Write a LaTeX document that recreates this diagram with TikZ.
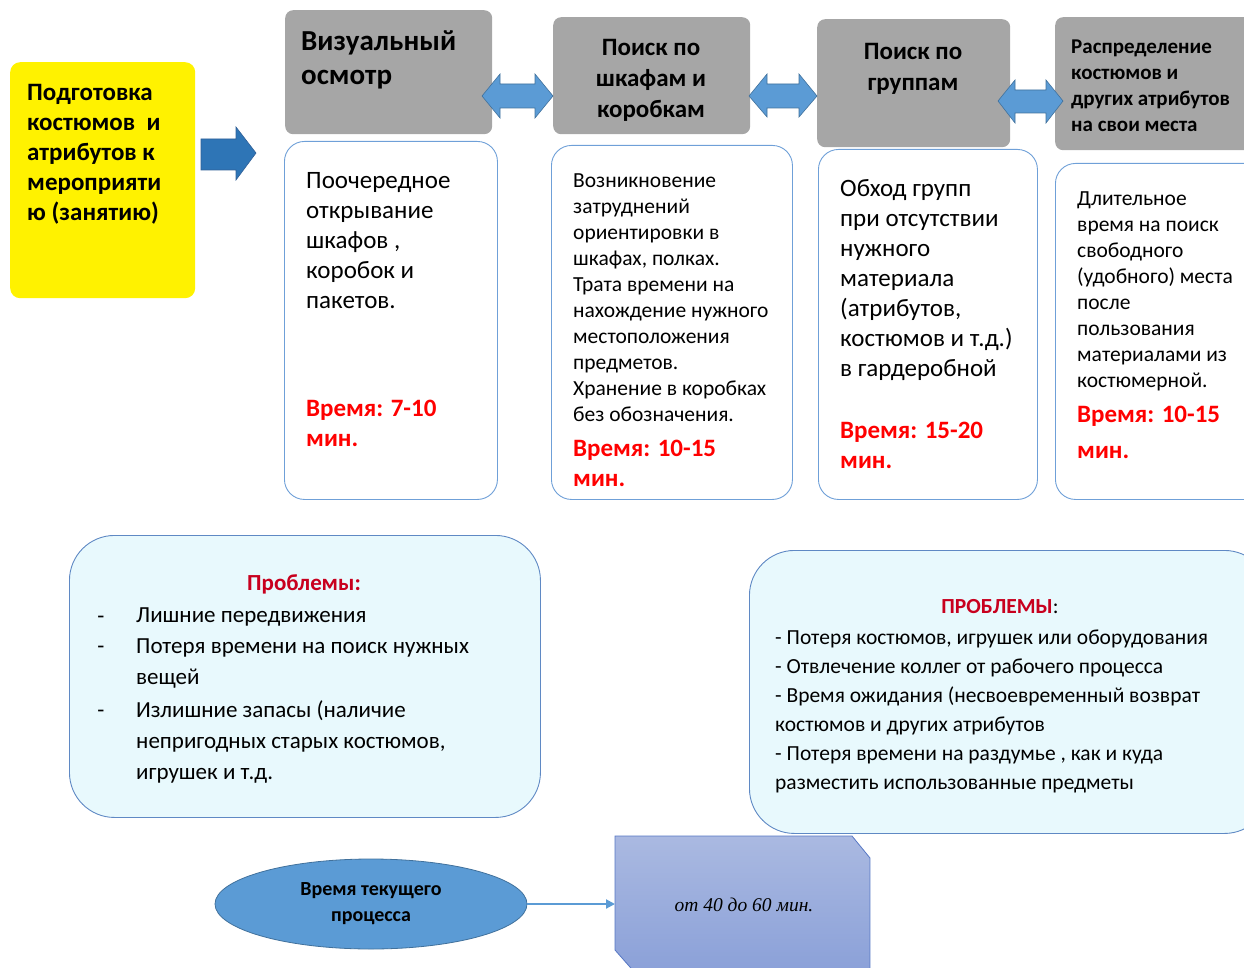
\documentclass[tikz,border=0pt]{standalone}
\usepackage{fontspec}
\setmainfont{Carlito}
\newfontfamily\serifit{Liberation Serif}
\usetikzlibrary{shapes.geometric,arrows.meta}
\definecolor{headgray}{HTML}{A6A6A6}
\definecolor{boxblue}{HTML}{6FA0D8}
\definecolor{arrblue}{HTML}{5B9BD5}
\definecolor{arrblueD}{HTML}{41719C}
\definecolor{darkarr}{HTML}{2E75B6}
\definecolor{darkarrD}{HTML}{2F5F97}
\definecolor{probfill}{HTML}{E8F9FD}
\definecolor{probline}{HTML}{5F89C4}
\definecolor{probred}{HTML}{C8001E}
\definecolor{lavtop}{HTML}{AAB9E1}
\definecolor{lavbot}{HTML}{8AA0D8}
\definecolor{lavline}{HTML}{5677C4}
\newcommand\myfs[2]{\fontsize{#1}{#2}\selectfont}
\begin{document}
\begin{tikzpicture}[x=1pt,y=-1pt,
  boxbase/.style={anchor=north west, inner sep=0pt},
  yellowbox/.style={boxbase, fill=yellow, rounded corners=10pt},
  headbox/.style={boxbase, fill=headgray, rounded corners=8pt},
  whitebox/.style={boxbase, draw=boxblue, line width=0.9pt, fill=white, rounded corners=20pt},
  probbox/.style={boxbase, draw=probline, line width=0.9pt, fill=probfill, rounded corners=45pt},
  txt/.style={anchor=north west, inner sep=0pt, align=left, text=black},
  ctxt/.style={anchor=north, inner sep=0pt, align=center, text=black},
  timetxt/.style={txt, text=red, font=\bfseries\myfs{25}{30}},
  dblarrow/.style={fill=arrblue, draw=arrblueD, line width=0.6pt},
  fatarrow/.style={fill=darkarr, draw=darkarrD, line width=0.6pt},
  conn/.style={draw=arrblue, line width=2pt, -{Triangle[length=9pt,width=9pt]}}
]
\useasboundingbox (0,0) rectangle (1244,968);
\clip (0,0) rectangle (1244,968);

% yellow start box
\node[yellowbox, minimum width=185pt, minimum height=236pt] (prep) at (10,62) {};
\node[txt, font=\bfseries\myfs{25}{30}] (prepT) at (27,84) {Подготовка\\костюмов\ \ и\\атрибутов к\\мероприяти\\ю (занятию)};

% header boxes
\node[headbox, minimum width=207pt, minimum height=124pt] (g1) at (285,10) {};
\node[headbox, minimum width=197pt, minimum height=117pt] (g2) at (553,17) {};
\node[headbox, minimum width=193pt, minimum height=128pt] (g3) at (817,19) {};
\node[headbox, minimum width=200pt, minimum height=133pt] (g4) at (1055,17) {};
\node[txt, font=\bfseries\myfs{29}{34}] (g1T) at (301,31) {Визуальный\\осмотр};
\node[ctxt, font=\bfseries\myfs{25}{31}] (g2T) at (651,39) {Поиск по\\шкафам и\\коробкам};
\node[ctxt, font=\bfseries\myfs{25}{31}] (g3T) at (913,43) {Поиск по\\группам};
\node[txt, font=\bfseries\myfs{21}{26}] (g4T) at (1071,40) {Распределение\\костюмов и\\других атрибутов\\на свои места};

% white description boxes
\node[whitebox, minimum width=213pt, minimum height=358pt] (wA) at (284,141) {};
\node[whitebox, minimum width=241pt, minimum height=354pt] (wB) at (551,145) {};
\node[whitebox, minimum width=219pt, minimum height=350pt] (wC) at (818,149) {};
\node[whitebox, minimum width=210pt, minimum height=336pt] (wD) at (1055,163) {};

\node[txt, font=\myfs{25}{30}] (wAT) at (306,172) {Поочередное\\открывание\\шкафов ,\\коробок и\\пакетов.};
\node[timetxt] (wAt) at (306,400) {Время: 7-10\\мин.};
\node[txt, font=\myfs{21.5}{26}] (wBT) at (573,174) {Возникновение\\затруднений\\ориентировки в\\шкафах, полках.\\Трата времени на\\нахождение нужного\\местоположения\\предметов.\\Хранение в коробках\\без обозначения.};
\node[timetxt] (wBt) at (573,440) {Время: 10-15\\мин.};
\node[txt, font=\myfs{25}{30}] (wCT) at (840,179) {Обход групп\\при отсутствии\\нужного\\материала\\(атрибутов,\\костюмов и т.д.)\\в гардеробной};
\node[timetxt] (wCt) at (840,422) {Время: 15-20\\мин.};
\node[txt, font=\myfs{21.5}{26}] (wDT) at (1077,192) {Длительное\\время на поиск\\свободного\\(удобного) места\\после\\пользования\\материалами из\\костюмерной.};
\node[timetxt, font=\bfseries\myfs{25}{36}] (wDt) at (1077,406) {Время: 10-15\\мин.};

% block arrows
\draw[fatarrow] (201,139) -- (236,139) -- (236,127) -- (256,153) -- (236,180) -- (236,170) -- (201,170) -- cycle;
\draw[dblarrow] (482,96) -- (500,74) -- (500,84) -- (535,84) -- (535,74) -- (553,96) -- (535,118) -- (535,108) -- (500,108) -- (500,118) -- cycle;
\draw[dblarrow] (749,96) -- (767,74) -- (767,84) -- (799,84) -- (799,74) -- (817,96) -- (799,117) -- (799,108) -- (767,108) -- (767,117) -- cycle;
\draw[dblarrow] (998,101) -- (1015,80) -- (1015,90) -- (1046,90) -- (1046,80) -- (1063,101) -- (1046,123) -- (1046,113) -- (1015,113) -- (1015,123) -- cycle;

% problems boxes
\node[probbox, minimum width=471pt, minimum height=282pt] (pL) at (69,535) {};
\node[ctxt, text=probred, font=\bfseries\myfs{23}{30}] (pLT) at (304,574) {Проблемы:};
\node[anchor=base, inner sep=0pt, font=\myfs{23}{31}] (d1) at (101,623) {-};
\node[anchor=base, inner sep=0pt, font=\myfs{23}{31}] (d2) at (101,653) {-};
\node[anchor=base, inner sep=0pt, font=\myfs{23}{31}] (d3) at (101,717) {-};
\node[txt, font=\myfs{23}{31}] (pLI) at (136,608) {Лишние передвижения\\Потеря времени на поиск нужных\\вещей\\[2pt]Излишние запасы (наличие\\непригодных старых костюмов,\\игрушек и т.д.};

\node[probbox, minimum width=520pt, minimum height=283pt] (pR) at (749,550) {};
\node[ctxt, font=\myfs{21.5}{29}] (pRT) at (1000,599) {\textcolor{probred}{\bfseries ПРОБЛЕМЫ}:};
\node[txt, font=\myfs{21.5}{29}] (pRI) at (775,630) {- Потеря костюмов, игрушек или оборудования\\- Отвлечение коллег от рабочего процесса\\- Время ожидания (несвоевременный возврат\\костюмов и других атрибутов\\- Потеря времени на раздумье , как и куда\\разместить использованные предметы};

% bottom: current process time
\node[ellipse, draw=arrblueD, line width=0.8pt, fill=arrblue, minimum width=312pt, minimum height=90pt, inner sep=0pt, align=center, font=\bfseries\myfs{20}{26}] (ell) at (371,904) {Время текущего\\процесса};
\shade[top color=lavtop, bottom color=lavbot, draw=lavline, line width=0.8pt] (615,836) -- (852,836) -- (870,858) -- (870,975) -- (637,975) -- (615,950) -- cycle;
\node[inner sep=0pt, font=\serifit\itshape\myfs{19.5}{24}] (lav) at (744,905) {от 40 до 60 мин.};
\coordinate (lavL) at (615,904);
\draw[conn] (ell.east) -- (lavL);
\end{tikzpicture}
\end{document}
